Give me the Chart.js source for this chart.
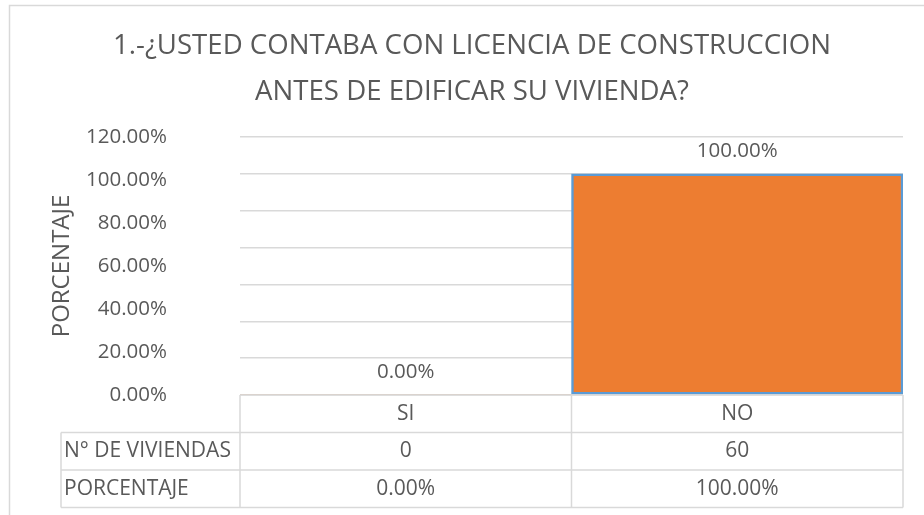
<!DOCTYPE html>
<html>
<head>
<meta charset="utf-8">
<script src="https://cdn.jsdelivr.net/npm/chart.js@4/dist/chart.umd.min.js"></script>
<style>
  html, body { margin: 0; padding: 0; background: #ffffff; }
  canvas { display: block; }
</style>
</head>
<body>
<canvas id="c" width="924" height="515"></canvas>
<script>
// ---- data ----
const titleLines = ['1.-¿USTED CONTABA CON LICENCIA DE CONSTRUCCION', 'ANTES DE EDIFICAR SU VIVIENDA?'];
const categories = ['SI', 'NO'];
const viviendas = [0, 60];
const porcentajes = [0, 1.0];
const tableRowLabels = ['N° DE VIVIENDAS', 'PORCENTAJE'];
const yAxisTitle = 'PORCENTAJE';
const yTickLabels = ['0.00%', '20.00%', '40.00%', '60.00%', '80.00%', '100.00%', '120.00%'];

const FONT = "'Open Sans', 'DejaVu Sans', sans-serif";
const TEXT = '#595959';
const LINE = '#d9d9d9';
const fmtPct = v => (v * 100).toFixed(2) + '%';

const decor = {
  id: 'decor',
  beforeDraw(chart) {
    const ctx = chart.ctx;
    ctx.save();
    ctx.fillStyle = '#ffffff';
    ctx.fillRect(0, 0, chart.width, chart.height);
    ctx.strokeStyle = LINE;
    ctx.lineWidth = 1.5;
    ctx.strokeRect(9.5, 5.5, chart.width + 20, chart.height + 20);
    // title
    ctx.fillStyle = TEXT;
    ctx.font = "27.6px " + FONT;
    ctx.textAlign = 'center';
    ctx.textBaseline = 'middle';
    ctx.fillText(titleLines[0], 472, 46);
    ctx.fillText(titleLines[1], 472, 92);
    ctx.restore();
  },
  afterDraw(chart) {
    const ctx = chart.ctx;
    const x = chart.scales.x;
    const area = chart.chartArea;
    const n = categories.length;
    const half = (x.right - x.left) / n / 2;
    const top = area.bottom;
    const rowH = 37.5;
    const labelLeft = 61;
    const right = x.right;
    ctx.save();
    // bar value labels
    ctx.fillStyle = TEXT;
    ctx.font = "20.5px " + FONT;
    ctx.textAlign = 'center';
    ctx.textBaseline = 'middle';
    const meta = chart.getDatasetMeta(0);
    meta.data.forEach((el, i) => {
      ctx.fillText(fmtPct(porcentajes[i]), el.x, el.y - 23);
    });
    // data table lines
    ctx.strokeStyle = LINE;
    ctx.lineWidth = 1.5;
    ctx.beginPath();
    ctx.moveTo(x.left, top); ctx.lineTo(right, top);
    for (let r = 1; r <= 3; r++) {
      ctx.moveTo(labelLeft, top + r * rowH); ctx.lineTo(right, top + r * rowH);
    }
    ctx.moveTo(labelLeft, top + rowH); ctx.lineTo(labelLeft, top + 3 * rowH);
    for (let i = 0; i < n; i++) {
      const l = x.getPixelForValue(i) - half;
      ctx.moveTo(l, top); ctx.lineTo(l, top + 3 * rowH);
    }
    ctx.moveTo(right, top); ctx.lineTo(right, top + 3 * rowH);
    ctx.stroke();
    // table text
    ctx.fillStyle = TEXT;
    ctx.font = "21px " + FONT;
    categories.forEach((c, i) => {
      const cx = x.getPixelForValue(i);
      ctx.textAlign = 'center';
      ctx.fillText(c, cx, top + rowH * 0.5);
      ctx.fillText(String(viviendas[i]), cx, top + rowH * 1.5);
      ctx.fillText(fmtPct(porcentajes[i]), cx, top + rowH * 2.5);
    });
    ctx.textAlign = 'left';
    tableRowLabels.forEach((t, r) => {
      ctx.fillText(t, labelLeft + 3, top + rowH * (r + 1.5));
    });
    ctx.restore();
  }
};

new Chart(document.getElementById('c'), {
  type: 'bar',
  data: {
    labels: categories,
    datasets: [{
      data: porcentajes,
      xAxisID: 'x',
      yAxisID: 'y',
      backgroundColor: '#ED7D31',
      borderColor: '#5B9BD5',
      borderWidth: ctx => (ctx.raw > 0 ? 2.5 : 0),
      borderSkipped: false,
      categoryPercentage: 1.0,
      barPercentage: 1.0
    }]
  },
  options: {
    responsive: false,
    animation: false,
    devicePixelRatio: 1,
    layout: { padding: { left: 0, top: 137, right: 21, bottom: 120 } },
    plugins: {
      legend: { display: false },
      title: { display: false },
      tooltip: { enabled: false }
    },
    scales: {
      x: {
        type: 'category',
        ticks: { display: false },
        grid: { display: false, drawTicks: false },
        border: { display: false }
      },
      y: {
        type: 'linear',
        position: 'left',
        min: 0,
        max: 7 / 6,
        ticks: { display: false, stepSize: 1 / 6 },
        grid: { color: LINE, lineWidth: 1.5, drawTicks: false },
        border: { display: false },
        afterFit: s => { s.width = 0; }
      },
      yl: {
        type: 'linear',
        position: 'left',
        min: 0,
        max: 1.2,
        ticks: {
          stepSize: 0.2,
          padding: 73,
          color: TEXT,
          font: { family: FONT, size: 20.5 },
          callback: (v, i) => yTickLabels[i]
        },
        grid: { display: false, drawTicks: false },
        border: { display: false },
        title: {
          display: true,
          text: yAxisTitle,
          color: TEXT,
          font: { family: FONT, size: 24 },
          padding: { top: 47.5, bottom: 0 }
        },
        afterFit: s => { s.width = 240; }
      }
    }
  },
  plugins: [decor]
});
</script>
</body>
</html>
